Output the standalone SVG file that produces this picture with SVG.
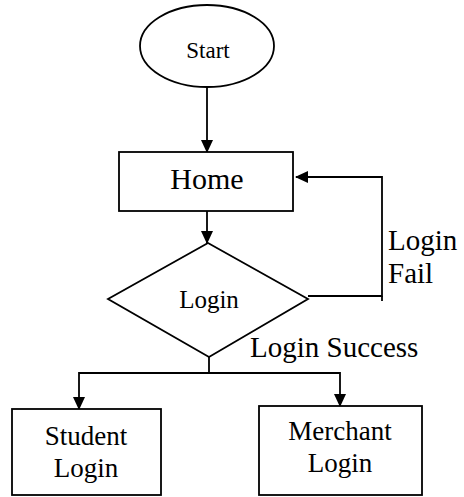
<svg xmlns="http://www.w3.org/2000/svg" width="464" height="497" viewBox="0 0 464 497">
<style>
.s{fill:#fff;stroke:#000;stroke-width:1.8}
.c{fill:none;stroke:#000;stroke-width:1.8}
text{font-family:"Liberation Serif","Times New Roman",serif;fill:#000}
.m{text-anchor:middle}
</style>
<defs>
<marker id="a" markerWidth="8" markerHeight="8" refX="7" refY="4" orient="auto" markerUnits="userSpaceOnUse" viewBox="0 0 8 8">
<path d="M0,0 L8,4 L0,8 z" fill="#000"/>
</marker>
<marker id="ah" markerWidth="13" markerHeight="12" refX="12" refY="6" orient="auto" markerUnits="userSpaceOnUse" viewBox="0 0 13 12">
<path d="M0,0 L13,6 L0,12 z" fill="#000"/>
</marker>
</defs>
<g id="connectors">
<path class="c" d="M207,87 V152" marker-end="url(#ah)"/>
<path class="c" d="M207,211 V243" marker-end="url(#ah)"/>
<path class="c" d="M308,296 H382 V177 H296" marker-end="url(#ah)"/>
<path class="c" d="M382,296 V301"/>
<path class="c" d="M209,357 V373 M79,373 H340"/>
<path class="c" d="M79,372 V409" marker-end="url(#ah)"/>
<path class="c" d="M340,372 V406" marker-end="url(#ah)"/>
<text x="388" y="250" font-size="29">Login</text>
<text x="388" y="283" font-size="29">Fail</text>
<text x="250" y="357" font-size="29">Login Success</text>
</g>
<g id="start">
<ellipse class="s" cx="207" cy="46" rx="67" ry="41"/>
<text class="m" x="208" y="58" font-size="23">Start</text>
</g>
<g id="home">
<rect class="s" x="119" y="152" width="174" height="59"/>
<text class="m" x="207" y="189" font-size="30">Home</text>
</g>
<g id="login">
<polygon class="s" points="208,243 308,299 209,357 108,299"/>
<text class="m" x="209" y="308" font-size="25">Login</text>
</g>
<g id="student">
<rect class="s" x="12" y="409" width="149" height="86"/>
<text class="m" x="86" y="445" font-size="27">Student</text>
<text class="m" x="86" y="477" font-size="27">Login</text>
</g>
<g id="merchant">
<rect class="s" x="259" y="406" width="163" height="89"/>
<text class="m" x="340" y="440" font-size="27">Merchant</text>
<text class="m" x="340" y="472" font-size="27">Login</text>
</g>
</svg>
